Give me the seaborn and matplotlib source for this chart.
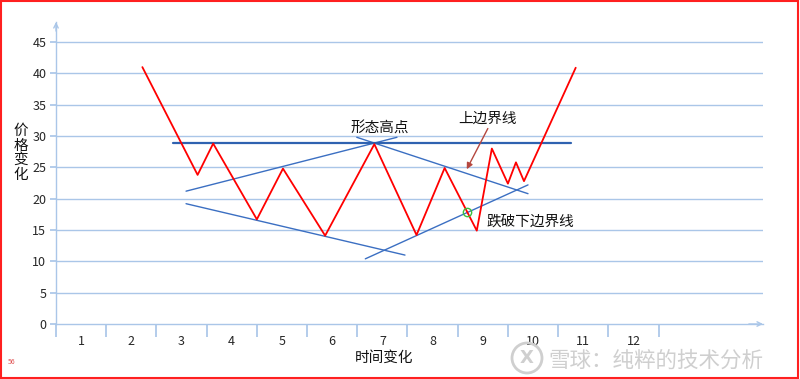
import numpy as np
import pandas as pd
import matplotlib
matplotlib.use('Agg')
import matplotlib.pyplot as plt
import seaborn as sns
from matplotlib.patches import Rectangle, Ellipse

# price path (x in category-width units, 0 = y axis)
price_x = [1.72, 2.82, 3.13, 4.00, 4.52, 5.36, 6.34, 7.18, 7.74, 8.38, 8.68, 9.00, 9.16, 9.32, 10.35]
price_y = [41.0, 23.8, 28.8, 16.7, 24.8, 14.1, 28.7, 14.2, 24.9, 14.9, 28.0, 22.4, 25.8, 22.8, 40.9]

# boundary lines
top_x, top_y = [2.33, 10.25], [28.9, 28.9]
up_left_x, up_left_y = [2.59, 6.79], [21.2, 29.8]
low_left_x, low_left_y = [2.59, 6.95], [19.2, 11.0]
down_right_x, down_right_y = [5.99, 9.40], [29.8, 20.8]
up_right_x, up_right_y = [6.16, 9.40], [10.4, 22.2]

break_pt = (8.19, 17.8)

y_ticks = [0, 5, 10, 15, 20, 25, 30, 35, 40, 45]
x_labels = ['1', '2', '3', '4', '5', '6', '7', '8', '9', '10', '11', '12']

sns.set_theme(style='white')
plt.rcParams['font.family'] = ['Noto Sans CJK SC', 'DejaVu Sans']

grid_c = '#aac6e8'
blue = '#3b6fc2'

fig = plt.figure(figsize=(8, 3.79), dpi=100)
ax = fig.add_axes([56/800, 1 - 324/379, 707/800, 302/379])
ax.set_xlim(0, 14.08)
ax.set_ylim(0, 48.2)

for y in y_ticks[1:]:
    ax.axhline(y, color=grid_c, lw=1.0, zorder=0)

sns.lineplot(x=price_x, y=price_y, sort=False, color='#ff0000', lw=1.3, ax=ax, zorder=4)

seg = pd.DataFrame({
    'x': up_left_x + low_left_x + down_right_x + up_right_x,
    'y': up_left_y + low_left_y + down_right_y + up_right_y,
    'line': ['a'] * 2 + ['b'] * 2 + ['c'] * 2 + ['d'] * 2,
})
sns.lineplot(data=seg, x='x', y='y', units='line', estimator=None, sort=False,
             color=blue, lw=1.0, ax=ax, zorder=3)
ax.plot(top_x, top_y, color='#2f62b0', lw=1.6, zorder=3)

ax.plot(*break_pt, marker='o', ms=6, mfc='none', mec='#3cbf3c', mew=1.0, zorder=5)

ax.annotate('', xy=(8.18, 24.7), xytext=(8.6, 31.2),
            arrowprops=dict(arrowstyle='-|>', color='#b5473f', lw=1.0,
                            mutation_scale=9, shrinkA=0, shrinkB=0))

ax.text(6.45, 31.3, '形态高点', fontsize=10.5, ha='center', va='center', color='#111111')
ax.text(8.6, 32.7, '上边界线', fontsize=10.5, ha='center', va='center', color='#111111')
ax.text(9.45, 16.3, '跌破下边界线', fontsize=10.5, ha='center', va='center', color='#111111')

# axes styling
for s in ['top', 'right']:
    ax.spines[s].set_visible(False)
for s in ['left', 'bottom']:
    ax.spines[s].set_color(grid_c)
    ax.spines[s].set_linewidth(1.0)

ax.set_yticks(y_ticks)
ax.tick_params(axis='y', length=4, color=grid_c, labelsize=9, pad=3, left=True)
ax.set_xticks(np.arange(0, 13))
ax.set_xticklabels([])
ax.set_xticks(np.arange(0.5, 12), minor=True)
ax.set_xticklabels(x_labels, minor=True)
ax.tick_params(axis='x', which='major', length=9, color=grid_c, bottom=True, direction='out')
ax.tick_params(axis='x', which='minor', length=0, labelsize=9, pad=8, bottom=True)
ax.set_xlabel('')
ax.set_ylabel('')

ax.annotate('', xy=(1.0, 0), xytext=(0.98, 0), xycoords='axes fraction',
            arrowprops=dict(arrowstyle='->', color=grid_c, lw=1.0, mutation_scale=8, shrinkA=0, shrinkB=0))
ax.annotate('', xy=(0, 1.0), xytext=(0, 0.97), xycoords='axes fraction',
            arrowprops=dict(arrowstyle='->', color=grid_c, lw=1.0, mutation_scale=8, shrinkA=0, shrinkB=0))

fig.text(384/800, 1 - 358/379, '时间变化', fontsize=10.5, ha='center', va='center', color='#111111')
fig.text(21/800, 1 - 153/379, '价\n格\n变\n化', fontsize=10.5, ha='center', va='center',
         linespacing=1.05, color='#111111')

# watermark: logo circle + text
wm_c = '#cfcfcf'
fig.text(548/800, 1 - 361/379, '雪球：纯粹的技术分析', fontsize=15.5, ha='left', va='center',
         color=wm_c)
fig.patches.append(Ellipse((527/800, 1 - 358/379), 30/800, 30/379, transform=fig.transFigure,
                           fill=False, edgecolor=wm_c, lw=2.0))
fig.text(527/800, 1 - 358/379, 'X', fontsize=13, ha='center', va='center', color=wm_c,
         fontweight='bold', family=['DejaVu Sans'])
fig.text(8/800, 1 - 362/379, '56', fontsize=5, color='#e05050', ha='left', va='center')

fig.patches.append(Rectangle((0.001, 0.002), 0.997, 0.995, transform=fig.transFigure,
                             fill=False, edgecolor='#ff2020', lw=1.5))

fig.savefig('out.png', dpi=100)
